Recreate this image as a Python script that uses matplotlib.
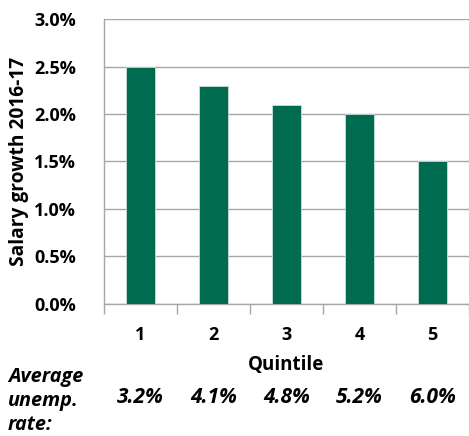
import matplotlib.pyplot as plt
from matplotlib.ticker import PercentFormatter

# salary growth by unemployment quintile
quintiles = ["1", "2", "3", "4", "5"]
salary_growth = [2.5, 2.3, 2.1, 2.0, 1.5]
unemp_rate = ["3.2%", "4.1%", "4.8%", "5.2%", "6.0%"]
row_label = ["Average", "unemp.", "rate:"]

plt.rcParams['font.family'] = ['Open Sans', 'DejaVu Sans']
plt.rcParams['font.weight'] = 'bold'

fig = plt.figure(figsize=(4.69, 4.36), dpi=100)
ax = fig.add_axes([0.2217, 0.3028, 0.7783, 0.6536])

x = range(len(quintiles))
ax.bar(x, salary_growth, width=0.4, color='#006B4F', edgecolor='#c8e0d8',
       linewidth=0.6, zorder=3)

ax.set_ylim(0, 3.0)
ax.set_xlim(-0.5, len(quintiles) - 0.5)
ax.set_yticks([0, 0.5, 1.0, 1.5, 2.0, 2.5, 3.0])
ax.yaxis.set_major_formatter(PercentFormatter(decimals=1))
ax.grid(axis='y', color='#a6a6a6', linewidth=1.0, zorder=0)

ax.set_xticks(x)
ax.set_xticklabels(quintiles)
ax.set_xticks([i - 0.5 for i in range(len(quintiles) + 1)], minor=True)
ax.tick_params(axis='x', which='major', length=0, pad=16, labelsize=13)
ax.tick_params(axis='x', which='minor', length=7, color='#a6a6a6', width=1)
ax.tick_params(axis='y', length=0, pad=20, labelsize=13)

for s in ['top', 'right']:
    ax.spines[s].set_visible(False)
for s in ['left', 'bottom']:
    ax.spines[s].set_color('#a6a6a6')
    ax.spines[s].set_linewidth(1.0)

ax.set_xlabel('Quintile', fontsize=13.5, fontweight='bold', labelpad=8)
ax.set_ylabel('Salary growth 2016-17', fontsize=13.8, fontweight='bold', labelpad=4)

# unemployment rate row below the axis
for i, r in enumerate(unemp_rate):
    ax.text(i, -0.985, r, ha='center', va='center', fontsize=15,
            fontstyle='italic', fontweight='bold', transform=ax.transData,
            clip_on=False)
for j, line in enumerate(row_label):
    fig.text(0.017, 0.136 - j * 0.0555, line, ha='left', va='center',
             fontsize=14.3, fontstyle='italic', fontweight='bold')

fig.savefig('out.png', dpi=100)
